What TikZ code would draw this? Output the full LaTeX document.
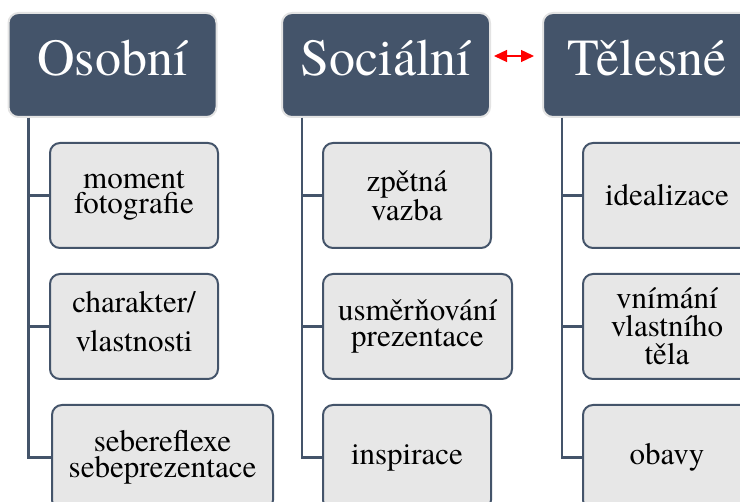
\documentclass[tikz,border=0pt]{standalone}
\usepackage{fontspec}
\setmainfont{texgyretermes}[Extension=.otf,UprightFont=*-regular,BoldFont=*-bold]
\usetikzlibrary{arrows.meta,calc}
\definecolor{hdr}{HTML}{44546A}
\definecolor{kidfill}{HTML}{E7E7E7}
\definecolor{hdrline}{HTML}{E3E3E3}
\begin{document}
\begin{tikzpicture}[x=1pt,y=-1pt,
  header/.style={rectangle,rounded corners=10pt,fill=hdr,draw=hdrline,line width=2pt,
    minimum width=208pt,minimum height=104pt,inner sep=0pt,text=white,
    font=\fontsize{52}{60}\selectfont,text height=30pt,text depth=8pt},
  kid/.style={rectangle,rounded corners=10pt,fill=kidfill,draw=hdr,line width=2pt,
    minimum height=105pt,inner sep=0pt,align=center,
    font=\fontsize{31}{25.5}\selectfont},
  conn/.style={draw=hdr,line width=2.5pt},
  twoway/.style={draw=red,line width=1.3pt,
    {Triangle[length=13pt,width=12pt]}-{Triangle[length=13pt,width=12pt]}}]
\useasboundingbox (0,0) rectangle (740,502);

% headers
\node[header] (os) at (112.5,65) {Osobní};
\node[header] (so) at (386,65) {Sociální};
\node[header] (te) at (647,65) {Tělesné};

% Osobní children
\node[kid,minimum width=168pt] (o1) at (134,195.5) {moment\\fotografie};
\node[kid,minimum width=168pt,text depth=10pt] (o2) at (134,326.5) {charakter/\\[13pt]vlastnosti};
\node[kid,minimum width=221pt] (o3) at (162.5,457.5) {sebereflexe\\sebeprezentace};

% Sociální children
\node[kid,minimum width=168pt] (s1) at (407,195.5) {zpětná\\vazba};
\node[kid,minimum width=189pt] (s2) at (417.5,326.5) {usměrňování\\prezentace};
\node[kid,minimum width=168pt] (s3) at (407,457.5) {inspirace};

% Tělesné children
\node[kid,minimum width=168pt] (t1) at (667,195.5) {idealizace};
\node[kid,minimum width=168pt,font=\fontsize{31}{28}\selectfont] (t2) at (667,326.5) {vnímání\\vlastního\\těla};
\node[kid,minimum width=168pt] (t3) at (667,457.5) {obavy};

% connectors
\coordinate (osroot) at ([xshift=21pt]os.south west);
\coordinate (soroot) at ([xshift=21pt]so.south west);
\coordinate (teroot) at ([xshift=20pt]te.south west);
\foreach \k in {o1,o2,o3} \draw[conn] (osroot) |- (\k.west);
\foreach \k in {s1,s2,s3} \draw[conn] (soroot) |- (\k.west);
\foreach \k in {t1,t2,t3} \draw[conn] (teroot) |- (\k.west);

% two-way arrow
\draw[twoway] ([shift={(3,-9)}]so.east) -- ([shift={(-8,-9)}]te.west);
\end{tikzpicture}
\end{document}
